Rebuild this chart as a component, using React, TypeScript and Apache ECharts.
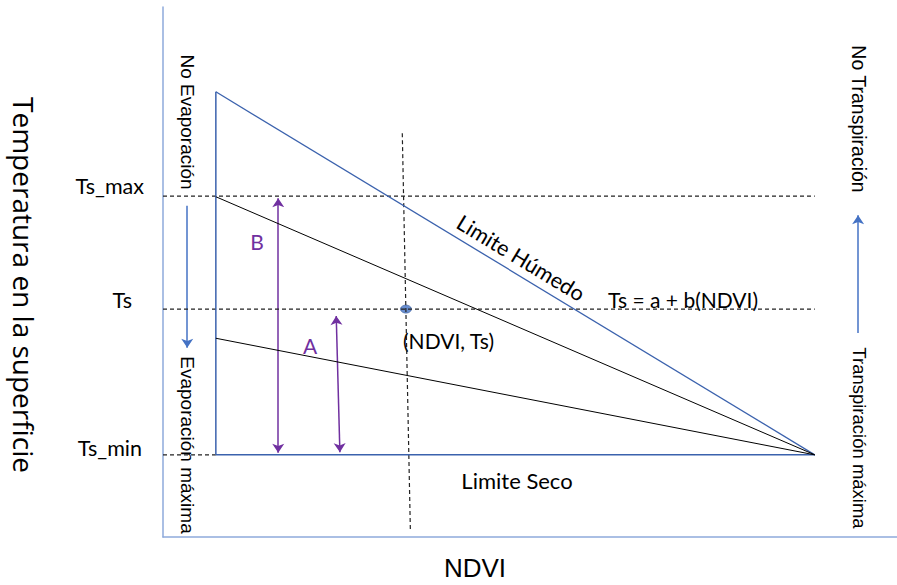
import React, { useEffect, useRef } from "react";
import * as echarts from "echarts";

// Abstract coordinates: NDVI axis 0..100, surface temperature axis 0..100
const wetEdge: number[][] = [[7.2, 84.0], [88.8, 15.5]];
const leftEdge: number[][] = [[7.2, 84.0], [7.2, 15.5]];
const dryEdge: number[][] = [[7.2, 15.5], [88.8, 15.5]];
const isolineUpper: number[][] = [[7.2, 64.2], [88.8, 15.5]];
const isolineLower: number[][] = [[7.2, 37.5], [88.8, 15.5]];
const tsMaxGuide: number[][] = [[0, 64.3], [88.8, 64.3]];
const tsGuide: number[][] = [[0, 43.0], [88.8, 43.0]];
const tsMinGuide: number[][] = [[0, 15.5], [7.2, 15.5]];
const ndviGuide: number[][] = [[32.6, 76.2], [33.7, 1.3]];
const pixelPoint: number[][] = [[33.1, 43.0]];
const arrowB: number[][] = [[15.7, 63.9], [15.7, 15.9]];
const arrowA: number[][] = [[23.6, 41.7], [24.1, 16.0]];
const evapArrow: number[][] = [[3.3, 62.5], [3.3, 35.7]];
const transpArrow: number[][] = [[94.7, 38.5], [94.7, 60.7]];

const yTickLabels = ["Ts_max", "Ts", "Ts_min"];

const LABEL_FONT = "Lato";
const SIDE_FONT = "'Liberation Sans', Arial";
const TITLE_FONT = "'Open Sans'";

export default function App() {
  const ref = useRef<HTMLDivElement>(null);
  useEffect(() => {
    const chart = echarts.init(ref.current!, undefined, { renderer: "svg" });
    const blue = "#3b62ad";
    const dashed = (data: number[][]) => ({
      type: "line",
      data,
      symbol: "none",
      silent: true,
      lineStyle: { color: "#222", width: 1.2, type: [4, 3] },
    });
    const solid = (data: number[][], color: string, width = 1.3) => ({
      type: "line",
      data,
      symbol: "none",
      silent: true,
      lineStyle: { color, width },
    });
    const arrows = (data: number[][], color: string, both: boolean, size: number) => ({
      type: "lines",
      coordinateSystem: "cartesian2d",
      silent: true,
      symbol: both ? ["arrow", "arrow"] : ["none", "arrow"],
      symbolSize: size,
      lineStyle: { color, width: 1.5, opacity: 1 },
      data: [{ coords: data }],
    });
    const txt = (
      text: string,
      x: number,
      y: number,
      size: number,
      family: string,
      opts: any = {}
    ) => ({
      type: "text",
      x,
      y,
      rotation: opts.rotation || 0,
      silent: true,
      style: {
        text,
        fill: opts.color || "#000",
        font: `${size}px ${family}`,
        align: opts.align || "center",
        verticalAlign: "middle",
      },
    });
    const rot = -Math.PI / 2;
    chart.setOption({
      animation: false,
      grid: { left: 163, right: 0, top: 7, bottom: 48 },
      xAxis: {
        type: "value",
        min: 0,
        max: 100,
        axisLine: { show: true, lineStyle: { color: "#8eaadb", width: 1.5 } },
        axisTick: { show: false },
        axisLabel: { show: false },
        splitLine: { show: false },
      },
      yAxis: {
        type: "value",
        min: 0,
        max: 100,
        axisLine: { show: true, lineStyle: { color: "#8eaadb", width: 1.5 } },
        axisTick: { show: false },
        axisLabel: { show: false },
        splitLine: { show: false },
      },
      series: [
        dashed(tsMaxGuide),
        dashed(tsGuide),
        dashed(tsMinGuide),
        dashed(ndviGuide),
        solid(wetEdge, blue),
        solid(leftEdge, blue, 1.5),
        solid(dryEdge, blue, 1.5),
        solid(isolineUpper, "#000", 1),
        solid(isolineLower, "#000", 1),
        arrows(arrowB, "#7030a0", true, 9),
        arrows(arrowA, "#7030a0", true, 9),
        arrows(evapArrow, "#4472c4", false, 9),
        arrows(transpArrow, "#4472c4", false, 9),
        {
          type: "scatter",
          data: pixelPoint,
          symbol: "circle",
          symbolSize: [11, 8],
          itemStyle: { color: "#4472c4", borderColor: "#2f5597", borderWidth: 0.8 },
          silent: true,
        },
      ],
      graphic: [
        txt("Temperatura en la superficie", 24, 285, 28, TITLE_FONT, { rotation: rot }),
        txt("NDVI", 475, 568, 26, SIDE_FONT),
        txt(yTickLabels[0], 144, 186, 21.5, LABEL_FONT, { align: "right" }),
        txt(yTickLabels[1], 132, 300, 21.5, LABEL_FONT, { align: "right" }),
        txt(yTickLabels[2], 142, 448, 21.5, LABEL_FONT, { align: "right" }),
        txt("No Evaporación", 187, 122, 19, SIDE_FONT, { rotation: rot }),
        txt("Evaporación máxima", 187, 445, 19, SIDE_FONT, { rotation: rot }),
        txt("No Transpiración", 859, 119, 19.5, SIDE_FONT, { rotation: rot }),
        txt("Transpiración máxima", 859, 438, 18.5, SIDE_FONT, { rotation: rot }),
        txt("B", 257, 241, 21, LABEL_FONT, { color: "#7030a0" }),
        txt("A", 310, 345, 21, LABEL_FONT, { color: "#7030a0" }),
        txt("Limite Húmedo", 521, 258, 21.5, LABEL_FONT, { rotation: (-31.2 * Math.PI) / 180 }),
        txt("Ts = a + b(NDVI)", 608, 299, 21, LABEL_FONT, { align: "left" }),
        txt("(NDVI, Ts)", 403, 340, 21, LABEL_FONT, { align: "left" }),
        txt("Limite Seco", 517, 480, 22, LABEL_FONT),
      ],
    });
    return () => chart.dispose();
  }, []);
  return (
    <div
      ref={ref}
      style={{ position: "absolute", left: 0, top: 0, width: 897, height: 585 }}
    />
  );
}
